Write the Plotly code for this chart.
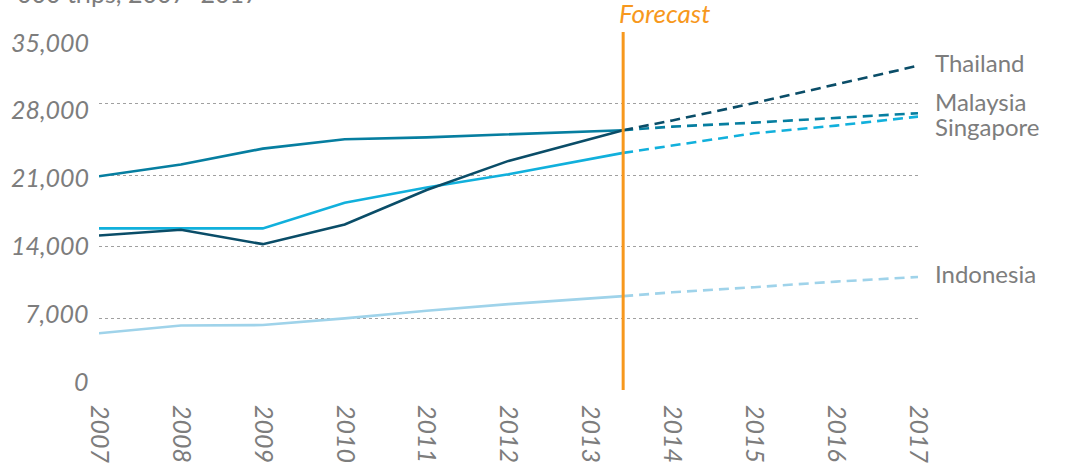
import plotly.graph_objects as go

# ---- data (thousand trips) ----
actual_years = [2007, 2008, 2009, 2010, 2011, 2012]
forecast_start = 2013.4
forecast_years = [2014, 2015, 2016, 2017]

countries = ["Thailand", "Malaysia", "Singapore", "Indonesia"]

thailand_actual = [15100, 15660, 14260, 16180, 19550, 22400]
thailand_start = 25400
thailand_forecast = [26350, 28050, 29900, 31700]

malaysia_actual = [20900, 22050, 23600, 24520, 24700, 25000]
malaysia_start = 25400
malaysia_forecast = [25750, 26140, 26620, 27060]

singapore_actual = [15800, 15800, 15800, 18300, 19800, 21100]
singapore_start = 23180
singapore_forecast = [23900, 25100, 25850, 26730]

indonesia_actual = [5550, 6300, 6350, 7000, 7750, 8400]
indonesia_start = 9180
indonesia_forecast = [9550, 10050, 10600, 11050]

tick_years = list(range(2007, 2018))
y_ticks = [0, 7000, 14000, 21000, 28000, 35000]
y_max = 35000

# ---- styling ----
colors = {
    "Thailand": "#0a4d68",
    "Malaysia": "#067ea0",
    "Singapore": "#11b0dc",
    "Indonesia": "#9fd3ea",
}
label_shift = {"Thailand": 3, "Malaysia": 12, "Singapore": -10, "Indonesia": 3}
grey = "#7d7d7d"
orange = "#f7981d"
FONT = "Lato"

series = {
    "Thailand": (thailand_actual, thailand_start, thailand_forecast),
    "Malaysia": (malaysia_actual, malaysia_start, malaysia_forecast),
    "Singapore": (singapore_actual, singapore_start, singapore_forecast),
    "Indonesia": (indonesia_actual, indonesia_start, indonesia_forecast),
}

fig = go.Figure()
draw_order = ["Indonesia", "Singapore", "Malaysia", "Thailand"]
for name in draw_order:
    act, start, fc = series[name]
    fig.add_trace(go.Scatter(
        x=actual_years + [forecast_start], y=act + [start],
        mode="lines", line=dict(color=colors[name], width=2.6),
        hoverinfo="skip", showlegend=False))
    fig.add_trace(go.Scatter(
        x=[forecast_start] + forecast_years, y=[start] + fc,
        mode="lines", line=dict(color=colors[name], width=2.6, dash="10px,6px"),
        hoverinfo="skip", showlegend=False))

annotations = []
for name in countries:
    _, _, fc = series[name]
    annotations.append(dict(
        x=forecast_years[-1], y=fc[-1], xref="x", yref="y",
        text=name, showarrow=False, xanchor="left", yanchor="middle",
        xshift=15, yshift=label_shift[name],
        font=dict(family=FONT, size=24, color=grey)))

# y-axis labels (slightly compressed relative to the gridlines, as in the original)
for v in y_ticks:
    annotations.append(dict(
        x=0, y=v, xref="paper", yref="y", text=f"{v:,}",
        showarrow=False, xanchor="right", yanchor="middle",
        xshift=-8, yshift=9 - 18.5 * v / y_max,
        font=dict(family=FONT, size=25, color=grey, style="italic")))

annotations.append(dict(
    x=forecast_start, y=1, xref="x", yref="paper", text="Forecast",
    showarrow=False, xanchor="left", yanchor="bottom", xshift=-6, yshift=1,
    font=dict(family=FONT, size=26, color=orange, style="italic")))

annotations.append(dict(
    x=0, y=1, xref="paper", yref="paper", text="000 trips, 2007\u20132017",
    showarrow=False, xanchor="left", yanchor="bottom", xshift=-84, yshift=22,
    font=dict(family=FONT, size=25, color=grey)))

fig.add_shape(type="line", x0=forecast_start, x1=forecast_start, y0=0, y1=y_max,
              xref="x", yref="y", line=dict(color=orange, width=3), layer="above")

fig.update_layout(
    width=1066, height=466,
    margin=dict(l=99, r=148, t=32, b=76),
    paper_bgcolor="white", plot_bgcolor="white",
    font=dict(family=FONT, color=grey),
    annotations=annotations,
    xaxis=dict(range=[2007, 2017], tickvals=tick_years,
               ticktext=[str(y) for y in tick_years], tickangle=90,
               showgrid=False, zeroline=False, showline=False, ticks="",
               tickfont=dict(family=FONT, size=25, color=grey, style="italic"),
               ticklabelstandoff=14, automargin=False),
    yaxis=dict(range=[0, y_max], tickvals=y_ticks, showticklabels=False,
               showgrid=True, gridcolor="#a0a0a0", griddash="dot", gridwidth=1,
               zeroline=False, showline=False, ticks="", automargin=False),
)

fig.write_html("out.html", config={"displayModeBar": False},
               post_script="document.body.style.margin='0px';")
